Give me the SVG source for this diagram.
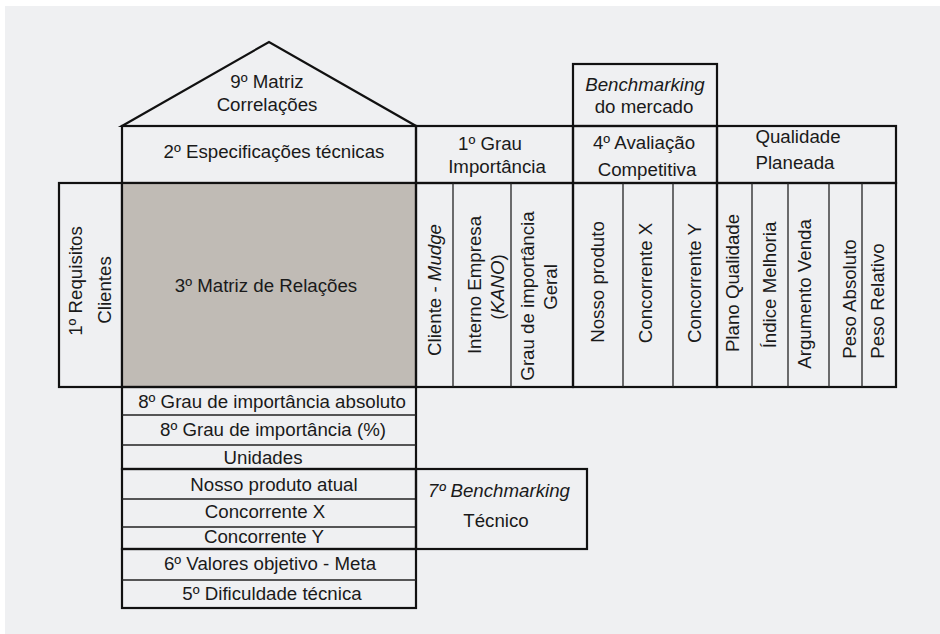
<svg xmlns="http://www.w3.org/2000/svg" width="940" height="634" viewBox="0 0 940 634">
<style>
text{font-family:"Liberation Sans",Arial,sans-serif;font-size:18.7px;fill:#1a1a1a;text-anchor:middle}
.it{font-style:italic}
.b{fill:none;stroke:#111;stroke-width:2.2}
.t{fill:none;stroke:#222;stroke-width:1.3}
.g{fill:#c0bbb5;stroke:#111;stroke-width:2.2}
</style>
<rect x="0" y="0" width="940" height="634" fill="#ffffff"/>
<rect x="5" y="6" width="935" height="628" fill="#eff0f2"/>

<g id="roof">
<polygon class="b" points="122,126 269,42 416,126"/>
<text x="267" y="88">9º Matriz</text>
<text x="267" y="111">Correlações</text>
</g>

<g id="specs">
<rect class="b" x="122" y="126" width="294" height="57"/>
<text x="274" y="158">2º Especificações técnicas</text>
</g>

<g id="requisitos">
<rect class="b" x="59" y="183" width="63" height="204"/>
<text transform="translate(81.5,281) rotate(-90)">1º Requisitos</text>
<text transform="translate(110.5,290) rotate(-90)">Clientes</text>
</g>

<g id="matriz-relacoes">
<rect class="g" x="122" y="183" width="294" height="204"/>
<text x="266" y="292">3º Matriz de Relações</text>
</g>

<g id="grau-importancia">
<rect class="b" x="416" y="126" width="157" height="57"/>
<text x="490" y="150">1º Grau</text>
<text x="497" y="173">Importância</text>
<rect class="b" x="416" y="183" width="157" height="204"/>
<line class="t" x1="453" y1="183" x2="453" y2="387"/>
<line class="t" x1="511" y1="183" x2="511" y2="387"/>
<text transform="translate(440.5,290) rotate(-90)">Cliente - <tspan class="it">Mudge</tspan></text>
<text transform="translate(480.5,285) rotate(-90)">Interno Empresa</text>
<text transform="translate(503.5,287) rotate(-90)">(<tspan class="it">KANO</tspan>)</text>
<text transform="translate(533.5,296) rotate(-90)">Grau de importância</text>
<text transform="translate(556.5,287) rotate(-90)">Geral</text>
</g>

<g id="benchmarking-mercado">
<rect class="b" x="573" y="64" width="144" height="62"/>
<text class="it" x="645" y="91">Benchmarking</text>
<text x="644" y="113">do mercado</text>
</g>

<g id="avaliacao-competitiva">
<rect class="b" x="573" y="126" width="144" height="57"/>
<text x="644" y="149">4º Avaliação</text>
<text x="647" y="176">Competitiva</text>
<rect class="b" x="573" y="183" width="144" height="204"/>
<line class="t" x1="623" y1="183" x2="623" y2="387"/>
<line class="t" x1="673" y1="183" x2="673" y2="387"/>
<text transform="translate(603.5,282) rotate(-90)">Nosso produto</text>
<text transform="translate(651.5,283) rotate(-90)">Concorrente  X</text>
<text transform="translate(700.5,283) rotate(-90)">Concorrente  Y</text>
</g>

<g id="qualidade-planeada">
<rect class="b" x="717" y="126" width="179" height="57"/>
<text x="798" y="143">Qualidade</text>
<text x="795" y="169">Planeada</text>
<rect class="b" x="717" y="183" width="179" height="204"/>
<line class="t" x1="752" y1="183" x2="752" y2="387"/>
<line class="t" x1="788" y1="183" x2="788" y2="387"/>
<line class="t" x1="829" y1="183" x2="829" y2="387"/>
<line class="t" x1="862" y1="183" x2="862" y2="387"/>
<text transform="translate(738.5,283) rotate(-90)">Plano Qualidade</text>
<text transform="translate(775.5,285) rotate(-90)">Índice Melhoria</text>
<text transform="translate(810.5,294) rotate(-90)">Argumento Venda</text>
<text transform="translate(855.5,299) rotate(-90)">Peso Absoluto</text>
<text transform="translate(883.5,301) rotate(-90)">Peso Relativo</text>
</g>

<g id="grau-importancia-tecnico">
<rect class="b" x="122" y="387" width="294" height="82"/>
<line class="t" x1="122" y1="415" x2="416" y2="415"/>
<line class="t" x1="122" y1="445" x2="416" y2="445"/>
<text x="272" y="408">8º Grau de importância absoluto</text>
<text x="273" y="436">8º Grau de importância (%)</text>
<text x="263" y="464">Unidades</text>
</g>

<g id="benchmarking-tecnico-linhas">
<rect class="b" x="122" y="469" width="294" height="80"/>
<line class="t" x1="122" y1="499" x2="416" y2="499"/>
<line class="t" x1="122" y1="527" x2="416" y2="527"/>
<text x="274" y="491">Nosso produto atual</text>
<text x="265" y="518">Concorrente X</text>
<text x="264" y="543">Concorrente Y</text>
</g>

<g id="benchmarking-tecnico">
<rect class="b" x="416" y="469" width="171" height="80"/>
<text x="499" y="497"><tspan class="it">7º Benchmarking</tspan></text>
<text x="496" y="527">Técnico</text>
</g>

<g id="valores-dificuldade">
<rect class="b" x="122" y="549" width="294" height="59"/>
<line class="t" x1="122" y1="580" x2="416" y2="580"/>
<text x="270" y="570">6º Valores objetivo - Meta</text>
<text x="272" y="600">5º Dificuldade técnica</text>
</g>

<g id="connectors"></g>
</svg>
